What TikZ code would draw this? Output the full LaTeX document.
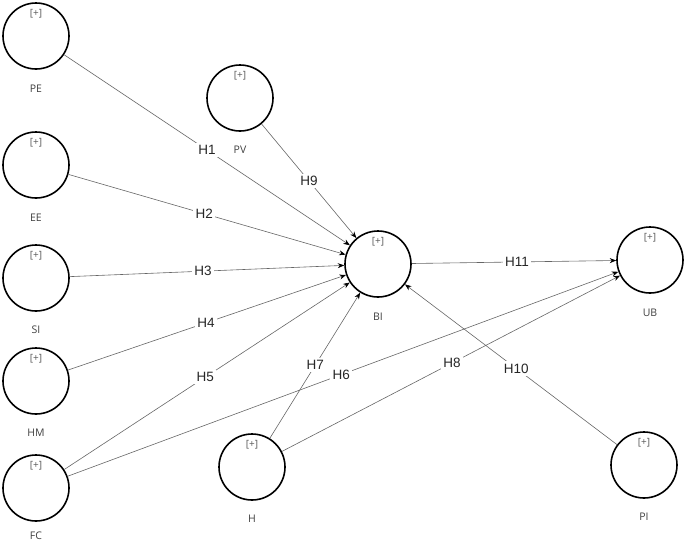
\documentclass[tikz,border=0pt]{standalone}
\usepackage{fontspec}
\setmainfont{Liberation Sans}
\newfontfamily\lblfont{Open Sans}
\usetikzlibrary{arrows.meta}
\begin{document}
\begin{tikzpicture}[x=1pt,y=-1pt,
  lv/.style={circle,draw=black,line width=1.6pt,minimum size=66pt,inner sep=0pt},
  plus/.style={font=\lblfont\fontsize{10}{12}\selectfont,text=black!65,inner sep=0pt},
  lvname/.style={font=\lblfont\fontsize{10.5}{12}\selectfont,text=black!75,inner sep=0pt},
  arr/.style={draw=black!60,line width=0.6pt,-{Stealth[length=6.5pt,width=5pt,black]}},
  hl/.style={fill=white,inner sep=2.5pt,font=\fontsize{13.5}{15}\selectfont,text=black!85}]
\useasboundingbox (0,0) rectangle (685,544);
\newcommand\lvar[5]{%
  \node[lv] (#1) at (#2,#3) {};
  \node[plus] (#1p) at (#2,#3-22) {[+]};
  \node[lvname] (#1l) at (#2,#3+#5) {#4};}
\lvar{PE}{36}{36}{PE}{53}
\lvar{EE}{36}{165}{EE}{53}
\lvar{SI}{36}{278}{SI}{52}
\lvar{HM}{36}{381}{HM}{52}
\lvar{FC}{36}{488}{FC}{48}
\lvar{PV}{240}{98}{PV}{52}
\lvar{BI}{378}{264}{BI}{53}
\lvar{UB}{650}{260}{UB}{53}
\lvar{H}{252}{467}{H}{52}
\lvar{PI}{644}{465}{PI}{52}
\draw[arr] (PE) -- node[hl,pos=0.5] {H1} (BI);
\draw[arr] (EE) -- node[hl,pos=0.49] {H2} (BI);
\draw[arr] (SI) -- node[hl,pos=0.485] {H3} (BI);
\draw[arr] (HM) -- node[hl,pos=0.496] {H4} (BI);
\draw[arr] (FC) -- node[hl,pos=0.494] {H5} (BI);
\draw[arr] (FC) -- node[hl,pos=0.497] {H6} (UB);
\draw[arr] (H) -- node[hl,pos=0.503] {H7} (BI);
\draw[arr] (H) -- node[hl,pos=0.503] {H8} (UB);
\draw[arr] (PV) -- node[hl,pos=0.5] {H9} (BI);
\draw[arr] (PI) -- node[hl,pos=0.475] {H10} (BI);
\draw[arr] (BI) -- node[hl,pos=0.515] {H11} (UB);
\end{tikzpicture}
\end{document}
